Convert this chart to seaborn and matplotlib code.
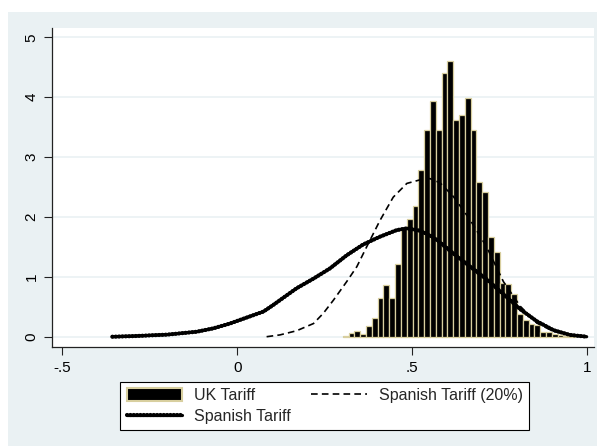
import numpy as np
import pandas as pd
import matplotlib
matplotlib.use("Agg")
import matplotlib.pyplot as plt
import seaborn as sns
from matplotlib.patches import Rectangle, Patch
from matplotlib.lines import Line2D

# ---- data ----
uk_heights = [0.01, 0.055, 0.09, 0.045, 0.18, 0.32, 0.64, 0.87, 0.65, 1.21,
              1.82, 1.97, 2.19, 2.79, 3.46, 3.93, 3.46, 4.40, 4.61, 3.62,
              3.71, 3.98, 3.46, 2.59, 2.42, 1.66, 1.42, 0.89, 0.88, 0.71,
              0.38, 0.28, 0.21, 0.20, 0.08, 0.08, 0.045, 0.03, 0.015, 0.01]
BIN_START = 0.302
BIN_WIDTH = 0.0166

spanish_x = [-0.357, -0.297, -0.2, -0.1635, -0.116, -0.068, -0.021, 0.027,
             0.075, 0.103, 0.122, 0.17, 0.218, 0.265, 0.313, 0.36, 0.408,
             0.456, 0.485, 0.523, 0.551, 0.57, 0.618, 0.666, 0.713, 0.761,
             0.809, 0.856, 0.904, 0.951, 0.999]
spanish_y = [0.0, 0.01, 0.035, 0.056, 0.083, 0.14, 0.22, 0.32,
             0.42, 0.53, 0.61, 0.81, 0.97, 1.14, 1.36, 1.54, 1.67,
             1.78, 1.81, 1.77, 1.69, 1.62, 1.39, 1.17, 0.96, 0.71,
             0.46, 0.26, 0.11, 0.03, 0.0]

spanish20_x = [0.084, 0.122, 0.17, 0.218, 0.246, 0.275, 0.313, 0.342, 0.37,
               0.408, 0.446, 0.485, 0.523, 0.551, 0.58, 0.618, 0.666, 0.713,
               0.761, 0.809, 0.856, 0.904, 0.951, 0.999]
spanish20_y = [0.0, 0.03, 0.1, 0.22, 0.39, 0.61, 0.92, 1.17, 1.5,
               1.94, 2.33, 2.56, 2.62, 2.64, 2.57, 2.34, 1.95, 1.5,
               0.92, 0.51, 0.23, 0.09, 0.03, 0.0]

x_ticks = [-0.5, 0, 0.5, 1]
x_tick_labels = ['-.5', '0', '.5', '1']
y_ticks = [0, 1, 2, 3, 4, 5]
y_tick_labels = ['0', '1', '2', '3', '4', '5']
legend_labels = ['UK Tariff', 'Spanish Tariff', 'Spanish Tariff (20%)']

# ---- style ----
sns.set_style("white")
plt.rcParams['font.family'] = ['Liberation Sans', 'DejaVu Sans']

BG = '#eaf1f3'
TAN = '#d8cf9f'
BEAD = (0, (0.05, 0.75))

fig = plt.figure(figsize=(6, 4.46), dpi=100)
fig.patch.set_facecolor('white')
fig.patches.append(Rectangle((8 / 600, 0), (597 - 8) / 600, (446 - 12) / 446,
                             transform=fig.transFigure, facecolor=BG,
                             edgecolor='none', zorder=-10))
ax = fig.add_axes([0.0872, 0.2226, 0.9028, 0.7153])
ax.set_facecolor('white')

n_bins = len(uk_heights)
bin_end = BIN_START + BIN_WIDTH * n_bins
centers = BIN_START + BIN_WIDTH * (np.arange(n_bins) + 0.5)
hist_df = pd.DataFrame({'x': centers, 'w': uk_heights})
sns.histplot(data=hist_df, x='x', weights='w', bins=n_bins,
             binrange=(BIN_START, bin_end), stat='count',
             color='black', edgecolor=TAN, linewidth=0.9, alpha=1, ax=ax,
             zorder=2)

sp_df = pd.DataFrame({'x': spanish_x, 'y': spanish_y})
sns.lineplot(data=sp_df, x='x', y='y', sort=False, estimator=None, ax=ax,
             color='black', linewidth=2.3, zorder=4)
sns.lineplot(data=sp_df, x='x', y='y', sort=False, estimator=None, ax=ax,
             color='black', linewidth=3.0, linestyle=BEAD,
             dash_capstyle='round', zorder=4)

sp20_df = pd.DataFrame({'x': spanish20_x, 'y': spanish20_y})
sns.lineplot(data=sp20_df, x='x', y='y', sort=False, estimator=None, ax=ax,
             color='black', linewidth=1.2, linestyle=(0, (4, 2.5)), zorder=3)

ax.set_xlim(-0.5286, 1.02)
ax.set_ylim(-0.167, 5.16)
ax.set_xticks(x_ticks)
ax.set_xticklabels(x_tick_labels)
ax.set_yticks(y_ticks)
ax.set_yticklabels(y_tick_labels)
for t in ax.get_yticklabels():
    t.set_rotation(90)
    t.set_va('center')
ax.set_xlabel('')
ax.set_ylabel('')

ax.yaxis.grid(True, color=BG, linewidth=1.2)
ax.xaxis.grid(False)
ax.set_axisbelow(True)
for s in ['top', 'right']:
    ax.spines[s].set_visible(False)
for s in ['left', 'bottom']:
    ax.spines[s].set_color('#222222')
    ax.spines[s].set_linewidth(0.9)
ax.tick_params(direction='out', length=6, width=0.8, color='#222222',
               labelsize=11, pad=4, left=True, bottom=True, labelcolor='black')

h_uk = Patch(facecolor='black', edgecolor=TAN, linewidth=1.5)
h_sp1 = Line2D([], [], color='black', linewidth=2.3)
h_sp2 = Line2D([], [], color='black', linewidth=3.0, linestyle=BEAD,
               dash_capstyle='round')
h_sp20 = Line2D([], [], color='black', linewidth=1.2, linestyle=(0, (4, 2.5)))
leg = ax.legend(handles=[h_uk, (h_sp1, h_sp2), h_sp20], labels=legend_labels,
                ncol=2, loc='upper center', bbox_to_anchor=(0.541, 0.1442),
                bbox_transform=fig.transFigure, frameon=True, fancybox=False,
                edgecolor='black', framealpha=1, fontsize=11.5, handlelength=3.5,
                handleheight=0.85, handletextpad=0.74, columnspacing=1.25,
                borderpad=0.4, labelspacing=0.35, borderaxespad=0)
leg.get_frame().set_linewidth(0.8)

fig.savefig('out.png', dpi=100, facecolor=fig.get_facecolor())
